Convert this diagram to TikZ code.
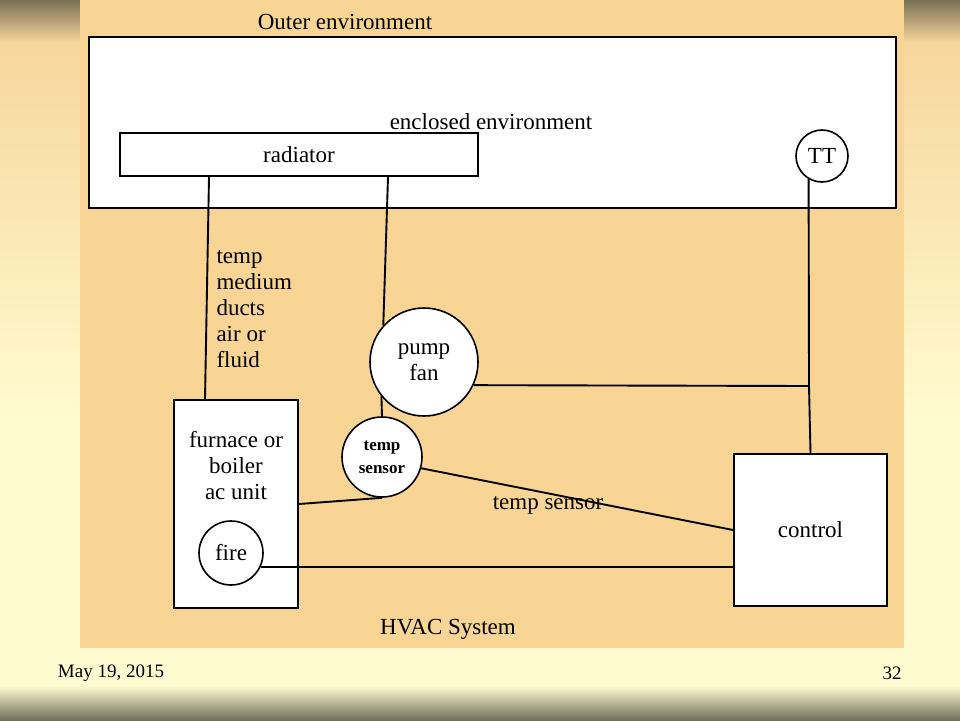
\documentclass[tikz,border=0pt]{standalone}
\usepackage{fontspec}
\setmainfont{Liberation Serif}
\definecolor{panel}{RGB}{248,213,148}
\definecolor{slidepale}{RGB}{255,251,208}
\definecolor{slidewarm}{RGB}{247,214,156}
\definecolor{slidedark}{RGB}{122,112,84}
\definecolor{slidefoot}{RGB}{112,112,92}
\tikzset{
  every node/.style={font=\fontsize{23}{26}\selectfont},
  box/.style={draw, line width=2pt, fill=white, inner sep=0pt},
  ball/.style={draw, circle, line width=1.6pt, fill=white, inner sep=0pt},
  wire/.style={line width=1.9pt},
}
\begin{document}
\begin{tikzpicture}[x=1pt, y=-1pt]
      \useasboundingbox (0,0) rectangle (960,720);
      % slide background
      \fill[slidepale] (0,0) rectangle (960,720);
      \shade[top color=slidewarm, bottom color=slidepale] (0,40) rectangle (960,420);
      \shade[top color=slidedark, bottom color=slidewarm] (0,0) rectangle (960,42);
      \shade[top color=slidepale, bottom color=slidefoot] (0,686) rectangle (960,720);
      \fill[panel] (80,0) rectangle (904,648);
      % boxes
      \node[box, minimum width=807pt, minimum height=171pt] (outer) at (492.5,122.5) {};
      \node[box, minimum width=358pt, minimum height=43pt] (radiator) at (299,154.5) {radiator};
      \node[ball, minimum size=52pt] (TT) at (822,156) {TT};
      \node[ball, minimum size=108pt, align=center] (pump) at (424,362) {pump\\fan};
      \node[ball, minimum size=80pt, align=center,
            font=\bfseries\fontsize{17}{23}\selectfont] (tsens) at (382,457) {temp\\sensor};
      \node[box, minimum width=124pt, minimum height=208pt] (furnace) at (236,504) {};
      \node[align=center] (furnacetext) at (236,466) {furnace or\\boiler\\ac unit};
      \node[ball, minimum size=64pt] (fire) at (231,553) {fire};
      \node[box, minimum width=153pt, minimum height=152pt] (control) at (810.5,530) {control};
      \coordinate (junction) at (809,386);
      % connectors
      \draw[wire] ([xshift=-90pt]radiator.south) -- ([xshift=-31pt]furnace.north);
      \draw[wire] ([xshift=89pt]radiator.south) -- (pump.138);
      \draw[wire] (pump.219) -- (tsens.north);
      \draw[wire] (pump.-25) -- (junction);
      \draw[wire] (TT.-120) -- (junction) -- (control.north);
      \draw[wire] (tsens.-16) -- (control.west);
      \draw[wire] (furnace.east) -- (tsens.south);
      \draw[wire] (fire.-25) -- (fire.-25 -| control.west);
      % labels
      \node (outerlabel) at (345,22) {Outer environment};
      \node (enclosedlabel) at (491,122) {enclosed environment};
      \node[align=left, anchor=west] (mediumlabel) at (213,309) {temp\\medium\\ducts\\air or\\fluid};
      \node (sensorlabel) at (548,505) {temp sensor};
      \node (hvaclabel) at (448,629) {HVAC System};
      \node[font=\fontsize{19}{22}\selectfont] (datelabel) at (111,673) {May 19, 2015};
      \node[font=\fontsize{19}{22}\selectfont] (pagelabel) at (892,673) {32};
    \end{tikzpicture}
\end{document}
